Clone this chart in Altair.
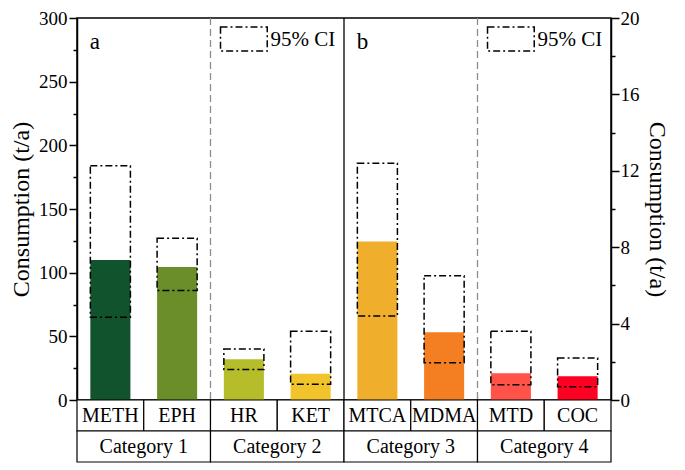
import altair as alt
import pandas as pd

# ---- data ----
drugs_a = ["METH", "EPH", "HR", "KET"]
mean_a = [110, 104.5, 32, 20.6]
lo_a = [65, 86, 24, 12.3]
hi_a = [184, 127, 40, 54]

drugs_b = ["MTCA", "MDMA", "MTD", "COC"]
mean_b = [8.3, 3.55, 1.4, 1.25]
lo_b = [4.4, 1.95, 0.8, 0.7]
hi_b = [12.4, 6.5, 3.6, 2.2]

categories = ["Category 1", "Category 2", "Category 3", "Category 4"]
colors = ["#11532d", "#6b8e2b", "#b5be2a", "#f0c42a",
          "#efae2b", "#f47f22", "#ff5248", "#fe0022"]

drugs = drugs_a + drugs_b
FONT = "Liberation Serif"
W, H, TH = 534, 382, 62
DASHDOT = [7, 3, 2, 3]

df_a = pd.DataFrame({"drug": drugs_a, "mean": mean_a, "lo": lo_a, "hi": hi_a})
df_b = pd.DataFrame({"drug": drugs_b, "mean": mean_b, "lo": lo_b, "hi": hi_b})

xscale = alt.Scale(domain=drugs, paddingInner=0, paddingOuter=0)


def xenc(**kw):
    return alt.X("drug:N", scale=xscale, axis=None, **kw)


color_enc = alt.Color("drug:N", scale=alt.Scale(domain=drugs, range=colors), legend=None)

ya = alt.Scale(domain=[0, 300], nice=False, zero=True)
yb = alt.Scale(domain=[0, 20], nice=False, zero=True)

common_axis = dict(
    labelOverlap=False, labelFlush=False, grid=False,
    title="Consumption (t/a)", titleFontSize=24, titleFont=FONT, titleFontWeight="normal",
    titleColor="black", labelFont=FONT, labelFontSize=19, labelColor="black",
    tickWidth=1.5, tickColor="black", domainWidth=1.5, domainColor="black",
)
axis_a = alt.Axis(
    values=list(range(0, 301, 25)),
    labelExpr="datum.value % 50 === 0 ? datum.label : ''",
    tickSize={"condition": {"test": "datum.value % 50 === 0", "value": 8}, "value": 4},
    titlePadding=5, labelPadding=2, **common_axis,
)
axis_b = alt.Axis(
    orient="right",
    values=list(range(0, 21, 2)),
    labelExpr="datum.value % 4 === 0 ? datum.label : ''",
    tickSize={"condition": {"test": "datum.value % 4 === 0", "value": 8}, "value": 4},
    titlePadding=5, labelPadding=1, **common_axis,
)

bar_w = alt.RelativeBandSize(0.6)

# ---- panel a (left axis) ----
bars_a = alt.Chart(df_a).mark_bar(width=bar_w).encode(
    x=xenc(), y=alt.Y("mean:Q", scale=ya, axis=axis_a), color=color_enc)
ci_a = alt.Chart(df_a).mark_bar(width=bar_w, fill="transparent", stroke="black",
                                strokeWidth=1.5, strokeDash=DASHDOT).encode(
    x=xenc(), y=alt.Y("lo:Q", scale=ya, axis=axis_a), y2="hi:Q")

rule_dash = alt.Chart(pd.DataFrame({"drug": ["HR", "MTD"]})).mark_rule(
    color="#8c8c8c", strokeWidth=1.3, strokeDash=[7, 4]).encode(x=xenc(bandPosition=0))
rule_solid = alt.Chart(pd.DataFrame({"drug": ["MTCA"]})).mark_rule(
    color="black", strokeWidth=1.3).encode(x=xenc(bandPosition=0))

panel_lbl = alt.Chart(pd.DataFrame({"drug": ["METH", "MTCA"], "label": ["a", "b"]})).mark_text(
    align="left", baseline="middle", fontSize=23, font=FONT, color="black").encode(
    x=xenc(bandPosition=0.19), y=alt.YDatum(281, scale=ya, axis=axis_a), text="label:N")

leg_box = alt.Chart(pd.DataFrame({"drug": ["HR", "MTD"]})).mark_bar(
    width=alt.RelativeBandSize(0.7), fill="transparent", stroke="black",
    strokeWidth=1.5, strokeDash=DASHDOT).encode(
    x=xenc(), y=alt.YDatum(274, scale=ya, axis=axis_a), y2=alt.Y2Datum(293))
leg_txt = alt.Chart(pd.DataFrame({"drug": ["HR", "MTD"], "label": ["95% CI", "95% CI"]})).mark_text(
    align="left", baseline="middle", fontSize=21, font=FONT, color="black").encode(
    x=xenc(bandPosition=0.9), y=alt.YDatum(283, scale=ya, axis=axis_a), text="label:N")

layer_a = alt.layer(bars_a, ci_a, rule_dash, rule_solid, panel_lbl, leg_box, leg_txt)

# ---- panel b (right axis) ----
bars_b = alt.Chart(df_b).mark_bar(width=bar_w).encode(
    x=xenc(), y=alt.Y("mean:Q", scale=yb, axis=axis_b), color=color_enc)
ci_b = alt.Chart(df_b).mark_bar(width=bar_w, fill="transparent", stroke="black",
                                strokeWidth=1.5, strokeDash=DASHDOT).encode(
    x=xenc(), y=alt.Y("lo:Q", scale=yb, axis=axis_b), y2="hi:Q")
layer_b = alt.layer(bars_b, ci_b)

main = alt.layer(layer_a, layer_b).resolve_scale(y="independent").properties(width=W, height=H)

# ---- table below ----
rows = []
for i, d in enumerate(drugs):
    rows.append({"label": d, "x0": i, "x1": i + 1, "y0": 0, "y1": 1, "cx": i + 0.5, "cy": 0.5})
for j, c in enumerate(categories):
    rows.append({"label": c, "x0": 2 * j, "x1": 2 * j + 2, "y0": 1, "y1": 2, "cx": 2 * j + 1, "cy": 1.5})
cells = pd.DataFrame(rows)

tx = alt.Scale(domain=[0, len(drugs)], nice=False, zero=False)
ty = alt.Scale(domain=[0, 2], nice=False, reverse=True)
cell_rect = alt.Chart(cells).mark_rect(fill="white", stroke="black", strokeWidth=1.2).encode(
    x=alt.X("x0:Q", scale=tx, axis=None), x2="x1:Q",
    y=alt.Y("y0:Q", scale=ty, axis=None), y2="y1:Q")
cell_txt = alt.Chart(cells).mark_text(fontSize=20, font=FONT, color="black", baseline="middle").encode(
    x=alt.X("cx:Q", scale=tx, axis=None), y=alt.Y("cy:Q", scale=ty, axis=None), text="label:N")
table = alt.layer(cell_rect, cell_txt).properties(
    width=W, height=TH, view=alt.ViewBackground(stroke="transparent"))

chart = alt.vconcat(main, table, spacing=0, bounds="flush").properties(padding=0).configure_axis(
    labelFont=FONT, titleFont=FONT, labelColor="black", titleColor="black",
    domainColor="black", tickColor="black", titleFontWeight="normal",
).configure_text(font=FONT).configure_view(stroke="black", strokeWidth=1.5)

chart.save("out.html", embed_options={"renderer": "svg", "actions": False})
